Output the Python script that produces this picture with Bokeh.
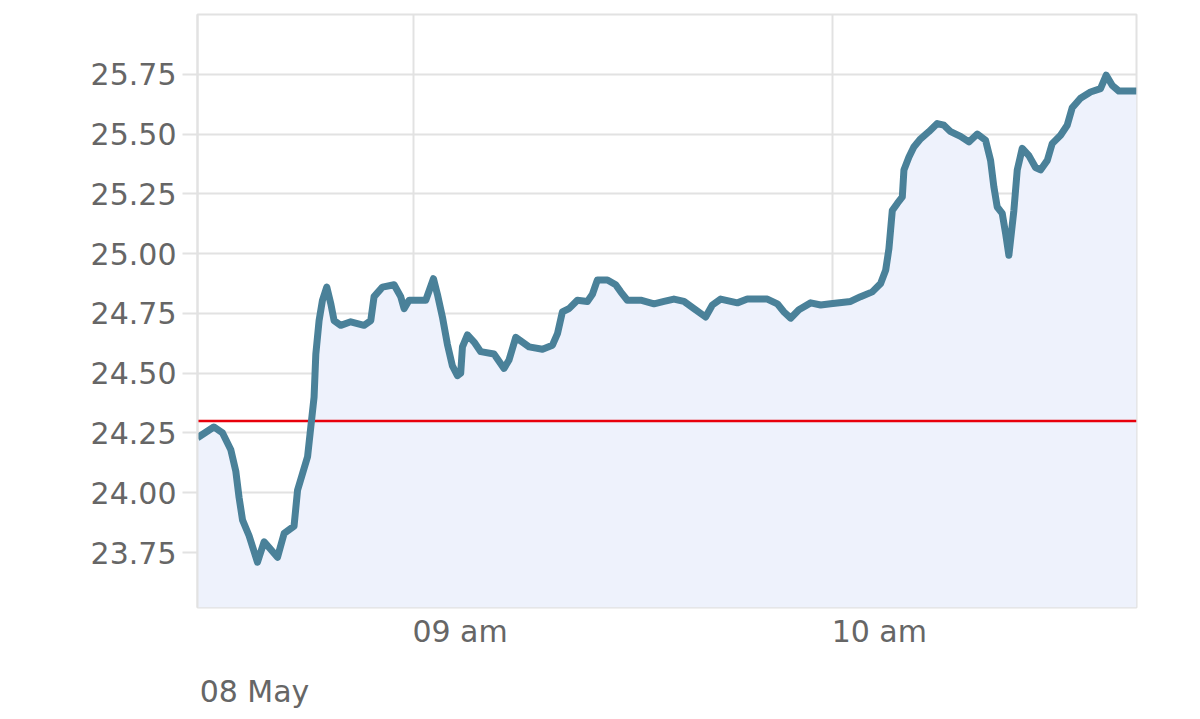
import pandas as pd
from bokeh.plotting import figure
from bokeh.models import (Range1d, FixedTicker, ColumnDataSource, NumeralTickFormatter,
                          DatetimeAxis, CustomJSTickFormatter, Grid)
from bokeh.embed import file_html
from bokeh.resources import INLINE

# ---------------- data ----------------
day = "2014-05-08"
times = [
    "08:29:09", "08:31:29", "08:32:44", "08:33:55", "08:34:38", "08:35:06", "08:35:36", "08:36:32",
    "08:37:44", "08:38:41", "08:40:36", "08:41:33", "08:42:58", "08:43:28", "08:44:11", "08:44:54",
    "08:45:22", "08:45:50", "08:46:05", "08:46:33", "08:47:02", "08:47:39", "08:48:14", "08:48:42",
    "08:49:39", "08:51:05", "08:52:59", "08:53:57", "08:54:25", "08:55:37", "08:57:17", "08:58:14",
    "08:58:43", "08:59:26", "09:01:49", "09:02:55", "09:03:29", "09:04:12", "09:04:55", "09:05:38",
    "09:06:21", "09:06:49", "09:07:04", "09:07:47", "09:08:44", "09:09:41", "09:11:35", "09:12:18",
    "09:13:01", "09:13:44", "09:14:42", "09:15:39", "09:16:36", "09:18:31", "09:19:57", "09:20:40",
    "09:21:22", "09:22:19", "09:23:31", "09:24:57", "09:25:40", "09:26:23", "09:27:49", "09:29:00",
    "09:29:43", "09:30:40", "09:32:35", "09:34:29", "09:35:55", "09:37:20", "09:38:46", "09:40:12",
    "09:41:52", "09:42:50", "09:44:01", "09:46:25", "09:47:50", "09:50:42", "09:52:08", "09:53:05",
    "09:54:02", "09:55:13", "09:56:54", "09:58:20", "09:59:45", "10:02:37", "10:04:03", "10:05:43",
    "10:06:55", "10:07:38", "10:08:06", "10:08:35", "10:09:18", "10:10:01", "10:10:15", "10:10:58",
    "10:11:40", "10:12:38", "10:13:49", "10:15:01", "10:15:58", "10:16:56", "10:18:21", "10:19:33",
    "10:20:45", "10:21:56", "10:22:39", "10:23:07", "10:23:36", "10:24:19", "10:24:48", "10:25:16",
    "10:25:59", "10:26:28", "10:27:11", "10:28:08", "10:29:05", "10:29:48", "10:30:46", "10:31:28",
    "10:32:40", "10:33:37", "10:34:20", "10:35:31", "10:36:57", "10:38:23", "10:39:12", "10:40:03",
    "10:41:00", "10:43:32",
]
prices = [
    24.23, 24.275, 24.25, 24.18, 24.09, 23.98, 23.885, 23.82,
    23.71, 23.795, 23.73, 23.83, 23.86, 24.01, 24.08, 24.15,
    24.275, 24.40, 24.58, 24.72, 24.805, 24.86, 24.79, 24.72,
    24.70, 24.715, 24.70, 24.72, 24.82, 24.86, 24.87, 24.82,
    24.77, 24.805, 24.805, 24.895, 24.83, 24.735, 24.62, 24.53,
    24.49, 24.50, 24.61, 24.66, 24.63, 24.59, 24.58, 24.55,
    24.52, 24.555, 24.65, 24.63, 24.61, 24.60, 24.617, 24.665,
    24.756, 24.77, 24.805, 24.80, 24.83, 24.89, 24.89, 24.87,
    24.84, 24.805, 24.805, 24.79, 24.80, 24.81, 24.80, 24.77,
    24.735, 24.785, 24.81, 24.794, 24.81, 24.81, 24.79, 24.756,
    24.73, 24.765, 24.794, 24.785, 24.79, 24.80, 24.82, 24.84,
    24.875, 24.93, 25.02, 25.18, 25.21, 25.237, 25.35, 25.404,
    25.446, 25.48, 25.51, 25.544, 25.537, 25.51, 25.49, 25.467,
    25.50, 25.474, 25.39, 25.28, 25.195, 25.168, 25.084, 24.993,
    25.18, 25.35, 25.44, 25.41, 25.36, 25.35, 25.39, 25.46,
    25.495, 25.537, 25.61, 25.65, 25.676, 25.69, 25.746, 25.704,
    25.68, 25.68,
]
reference_level = 24.30
y_ticks = [23.75, 24.00, 24.25, 24.50, 24.75, 25.00, 25.25, 25.50, 25.75]
x_tick_times = ["09:00:00", "10:00:00"]
x_tick_labels = ["09 am", "10 am"]
date_label = "08 May"
y_min, y_max = 23.52, 26.0

# ---------------- layout / style constants ----------------
FRAME_W = 939
FRAME_H = 593
B_LEFT, B_TOP, B_RIGHT, B_BOTTOM = 197, 14, 54, 108
FONT = "DejaVu Sans"
TXT = "#666666"
GRID = "#e2e2e2"
TICK_LABEL_HALF_PX = 47      # half width of an "09 am" label: labels start at their tick
DATE_LABEL_HALF_PX = 57      # half width of the date label (+ small indent)

# ---------------- build ----------------
ts = pd.to_datetime([f"{day} {t}" for t in times])
tick_ts = pd.to_datetime([f"{day} {t}" for t in x_tick_times])
tick_ms = [t.value / 1e6 for t in tick_ts]
start_ms = ts[0].value / 1e6
end_ms = ts[-1].value / 1e6
ms_per_px = (end_ms - start_ms) / FRAME_W

src = ColumnDataSource(dict(t=ts, p=prices, base=[y_min] * len(prices)))
ref_src = ColumnDataSource(dict(t=[ts[0], ts[-1]], r=[reference_level, reference_level]))

p = figure(width=B_LEFT + FRAME_W + B_RIGHT, height=B_TOP + FRAME_H + B_BOTTOM,
           x_axis_type=None, output_backend="svg", toolbar_location=None,
           x_range=Range1d(start_ms, end_ms), y_range=Range1d(y_min, y_max),
           min_border_left=B_LEFT, min_border_right=B_RIGHT,
           min_border_top=B_TOP, min_border_bottom=B_BOTTOM,
           background_fill_color="white", border_fill_color="white")

p.outline_line_color = GRID
p.outline_line_width = 2

p.add_layout(Grid(dimension=0, ticker=FixedTicker(ticks=tick_ms),
                  grid_line_color=GRID, grid_line_width=2))

p.yaxis.ticker = FixedTicker(ticks=y_ticks)
p.yaxis.formatter = NumeralTickFormatter(format="0.00")
p.yaxis.major_label_text_font = FONT
p.yaxis.major_label_text_font_size = "30px"
p.yaxis.major_label_text_color = TXT
p.yaxis.major_tick_out = 15
p.yaxis.major_tick_in = 0
p.yaxis.minor_tick_line_color = None
p.yaxis.major_tick_line_color = GRID
p.yaxis.major_tick_line_width = 2
p.yaxis.axis_line_color = GRID
p.yaxis.axis_line_width = 2
p.yaxis.major_label_standoff = 6
p.ygrid.ticker = FixedTicker(ticks=y_ticks)
p.ygrid.grid_line_color = GRID
p.ygrid.grid_line_width = 2


def label_axis(positions, labels, standoff):
    ax = DatetimeAxis(ticker=FixedTicker(ticks=positions),
                      formatter=CustomJSTickFormatter(args=dict(labels=labels),
                                                      code="return labels[index]"))
    ax.major_label_text_font = FONT
    ax.major_label_text_font_size = "30px"
    ax.major_label_text_color = TXT
    ax.major_tick_line_color = None
    ax.minor_tick_line_color = None
    ax.major_tick_out = 0
    ax.major_tick_in = 0
    ax.axis_line_color = None
    ax.major_label_standoff = standoff
    return ax


# hour labels, left-aligned at their hour tick
p.add_layout(label_axis([m + TICK_LABEL_HALF_PX * ms_per_px for m in tick_ms],
                        x_tick_labels, 6), "below")
# date label under the first data point
p.add_layout(label_axis([start_ms + DATE_LABEL_HALF_PX * ms_per_px], [date_label], 22), "below")

p.varea(x="t", y1="base", y2="p", source=src, fill_color="#eef2fc")
p.line(x="t", y="r", source=ref_src, line_color="#e8000b", line_width=2.5)
p.line(x="t", y="p", source=src, line_color="#4a8199", line_width=7, line_join="round")

open("out.html", "w").write(file_html(p, INLINE))
